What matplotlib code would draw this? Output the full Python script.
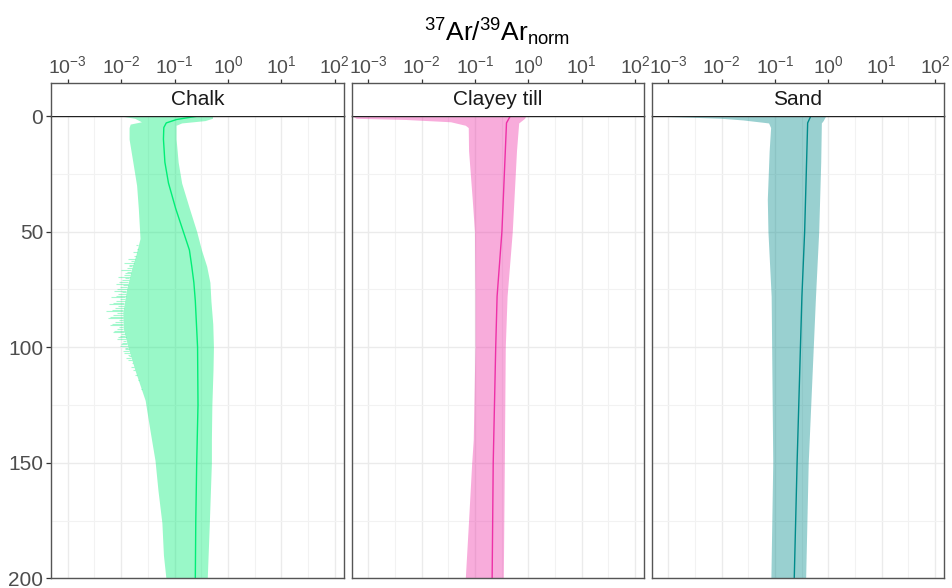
import numpy as np
import matplotlib
matplotlib.use('Agg')
import matplotlib.pyplot as plt
from matplotlib.ticker import FixedLocator, NullFormatter, LogFormatterSciNotation

matplotlib.rc('font', family='Liberation Sans')
matplotlib.rc('mathtext', fontset='custom', rm='Liberation Sans',
              it='Liberation Sans:italic', bf='Liberation Sans:bold')

# 37Ar/39Ar ratio profiles vs depth (m), median and spread band
panels = ['Chalk', 'Clayey till', 'Sand']
colors = ['#00EE76', '#EE30A7', '#008B8B']

chalk_lo_depth = [0, 1, 2.5, 3.5, 5, 10, 20, 30, 40, 53, 60, 66, 75, 85, 92, 100, 110, 123,
                  136, 149, 162, 176, 190, 200]
chalk_lo = [0.01, 0.018, 0.024, 0.0148, 0.0141, 0.0141, 0.0166, 0.0195, 0.021, 0.0226, 0.019,
            0.0158, 0.0127, 0.0108, 0.0110, 0.0135, 0.0182, 0.0282, 0.0347, 0.0431, 0.049,
            0.058, 0.062, 0.069]
chalk_hi_depth = [0, 1, 2, 3, 4, 10, 20, 29, 40, 50, 58, 65, 72, 80, 90, 100, 110, 125, 140,
                  150, 175, 200]
chalk_hi = [0.52, 0.51, 0.37, 0.136, 0.107, 0.107, 0.117, 0.136, 0.19, 0.26, 0.32, 0.40, 0.46,
            0.48, 0.52, 0.535, 0.525, 0.50, 0.49, 0.49, 0.45, 0.41]
chalk_mid_depth = [0, 1.5, 3, 5, 10, 20, 29, 40, 50, 58, 65, 72, 80, 100, 125, 150, 175, 200]
chalk_mid = [0.28, 0.11, 0.07, 0.063, 0.062, 0.066, 0.077, 0.105, 0.146, 0.19, 0.21, 0.23,
             0.245, 0.27, 0.275, 0.26, 0.25, 0.245]
# noisy low-end samples sticking out of the chalk band
chalk_spike_depth = [56, 57.5, 59, 60.5, 62, 62.8, 63.5, 64.3, 65, 65.8, 66.5, 67.3, 68, 68.8,
                     69.5, 70.3, 71, 71.8, 72.5, 73.3, 74, 74.8, 75.5, 76.3, 77, 77.8, 78.5,
                     79.3, 80, 80.8, 81.5, 82.3, 83, 83.8, 84.5, 85.3, 86, 86.8, 87.5, 88.3,
                     89, 89.8, 90.5, 91.3, 92, 92.8, 93.5, 94.3, 95, 95.8, 96.5, 97.3, 98,
                     98.8, 99.5, 100.3, 101, 101.8, 102.5, 103.3, 104, 104.8, 105.5, 107,
                     108.5, 110, 112, 114, 116, 118, 121]
chalk_spike = [0.019, 0.0205, 0.0165, 0.0172, 0.0132, 0.0150, 0.0112, 0.0140, 0.0141, 0.0128,
               0.0100, 0.0130, 0.0120, 0.0112, 0.0089, 0.0118, 0.0105, 0.0092, 0.0079, 0.0110,
               0.0095, 0.0085, 0.0074, 0.0102, 0.0087, 0.0080, 0.0066, 0.0094, 0.0079, 0.0072,
               0.0060, 0.0088, 0.0076, 0.0068, 0.0052, 0.0085, 0.0071, 0.0063, 0.0056, 0.0090,
               0.0076, 0.0068, 0.0063, 0.0092, 0.0083, 0.0075, 0.0072, 0.0100, 0.0095, 0.0088,
               0.0085, 0.0110, 0.0105, 0.0098, 0.0095, 0.0120, 0.0117, 0.0108, 0.0112, 0.0135,
               0.0138, 0.0125, 0.0132, 0.0158, 0.0150, 0.0166, 0.0185, 0.0219, 0.0225, 0.0251,
               0.0265]

clay_lo_depth = [0, 1, 1.5, 2.5, 4, 5, 15, 36, 50, 78, 100, 140, 150, 175, 200]
clay_lo = [0.0005, 0.0006, 0.005, 0.035, 0.066, 0.075, 0.076, 0.089, 0.098, 0.10, 0.10, 0.093,
           0.087, 0.076, 0.066]
clay_hi_depth = [0, 1, 3, 15, 50, 78, 100, 150, 200]
clay_hi = [0.89, 0.85, 0.66, 0.60, 0.50, 0.40, 0.37, 0.355, 0.34]
clay_mid_depth = [0, 3, 50, 78, 100, 150, 200]
clay_mid = [0.46, 0.39, 0.32, 0.26, 0.245, 0.22, 0.21]

sand_lo_depth = [0, 0.5, 1, 1.7, 3, 5, 15, 36, 50, 78, 150, 200]
sand_lo = [0.0005, 0.0025, 0.01, 0.025, 0.076, 0.083, 0.078, 0.072, 0.074, 0.085, 0.091, 0.084]
sand_hi_depth = [0, 2, 3, 20, 50, 78, 150, 200]
sand_hi = [0.89, 0.80, 0.74, 0.72, 0.66, 0.575, 0.42, 0.376]
sand_mid_depth = [0, 3, 50, 78, 150, 200]
sand_mid = [0.47, 0.41, 0.36, 0.32, 0.26, 0.23]

bands = [(chalk_lo_depth, chalk_lo, chalk_hi_depth, chalk_hi, chalk_mid_depth, chalk_mid),
         (clay_lo_depth, clay_lo, clay_hi_depth, clay_hi, clay_mid_depth, clay_mid),
         (sand_lo_depth, sand_lo, sand_hi_depth, sand_hi, sand_mid_depth, sand_mid)]

xmajor = [1e-3, 1e-2, 1e-1, 1e0, 1e1, 1e2]
xminor = 10 ** np.arange(-3.5, 2.6, 1.0)
xlim = (10 ** -3.307, 10 ** 2.169)

W, H = 952., 588.
fig = plt.figure(figsize=(W / 100, H / 100), dpi=100)
lefts = [51.3, 351.7, 651.7]
pw = 292.5
top, bot = 116., 578.3
strip_h = 33.
edge = '#555555'

for i, name in enumerate(panels):
    ld, lo, hd, hi, md, mid = bands[i]
    # common depth grid so the band edges can be filled together
    d = np.unique(np.concatenate([ld, hd]))
    lo_d = 10 ** np.interp(d, ld, np.log10(lo))
    hi_d = 10 ** np.interp(d, hd, np.log10(hi))

    ax = fig.add_axes([lefts[i] / W, 1 - bot / H, pw / W, (bot - top) / H])
    ax.fill_betweenx(d, lo_d, hi_d, color=colors[i], alpha=0.4, lw=0)
    if i == 0:
        edge_at = 10 ** np.interp(chalk_spike_depth, ld, np.log10(lo))
        ax.hlines(chalk_spike_depth, chalk_spike, edge_at, color=colors[i], alpha=0.35, lw=0.8)
    ax.plot(mid, md, color=colors[i], lw=1.0)
    ax.set_xscale('log')
    ax.set_xlim(*xlim)
    ax.set_ylim(200, 0)
    ax.xaxis.set_major_locator(FixedLocator(xmajor))
    ax.xaxis.set_minor_locator(FixedLocator(xminor))
    ax.xaxis.set_major_formatter(NullFormatter())
    ax.xaxis.set_minor_formatter(NullFormatter())
    ax.set_yticks([0, 50, 100, 150, 200])
    ax.yaxis.set_minor_locator(FixedLocator([25, 75, 125, 175]))
    ax.grid(which='major', color='#EBEBEB', lw=1.0)
    ax.grid(which='minor', color='#F2F2F2', lw=0.8)
    ax.set_axisbelow(True)
    ax.tick_params(axis='x', which='both', length=0)
    ax.tick_params(axis='y', which='minor', length=0)
    if i == 0:
        ax.tick_params(axis='y', which='major', length=3.3, width=0.9, color='#333333',
                       pad=2.5, labelsize=15, labelcolor='#4D4D4D')
    else:
        ax.tick_params(axis='y', which='major', length=0, labelleft=False)
    for s in ax.spines.values():
        s.set_color(edge)
        s.set_linewidth(1.0)
    ax.spines['top'].set_color('#222222')

    # facet strip with the x tick labels above it
    sax = fig.add_axes([lefts[i] / W, 1 - top / H, pw / W, strip_h / H])
    sax.set_xscale('log')
    sax.set_xlim(*xlim)
    sax.set_ylim(0, 1)
    sax.set_yticks([])
    sax.xaxis.tick_top()
    sax.xaxis.set_major_locator(FixedLocator(xmajor))
    sax.xaxis.set_minor_locator(FixedLocator([]))
    sax.xaxis.set_major_formatter(LogFormatterSciNotation())
    sax.tick_params(axis='x', which='major', length=3.0, width=0.9, color='#333333',
                    pad=1.5, labelsize=14, labelcolor='#4D4D4D')
    sax.set_facecolor('white')
    for s in sax.spines.values():
        s.set_color(edge)
        s.set_linewidth(1.0)
    sax.spines['bottom'].set_visible(False)
    sax.text(0.5, 0.5, name, transform=sax.transAxes, ha='center', va='center',
             fontsize=15, color='#1A1A1A')

fig.text(497 / W, 1 - 41 / H, r'$^{37}$Ar/$^{39}$Ar$_{\mathrm{norm}}$', ha='center',
         va='baseline', fontsize=19, color='black')

plt.savefig('out.png', dpi=100)
plt.close()
